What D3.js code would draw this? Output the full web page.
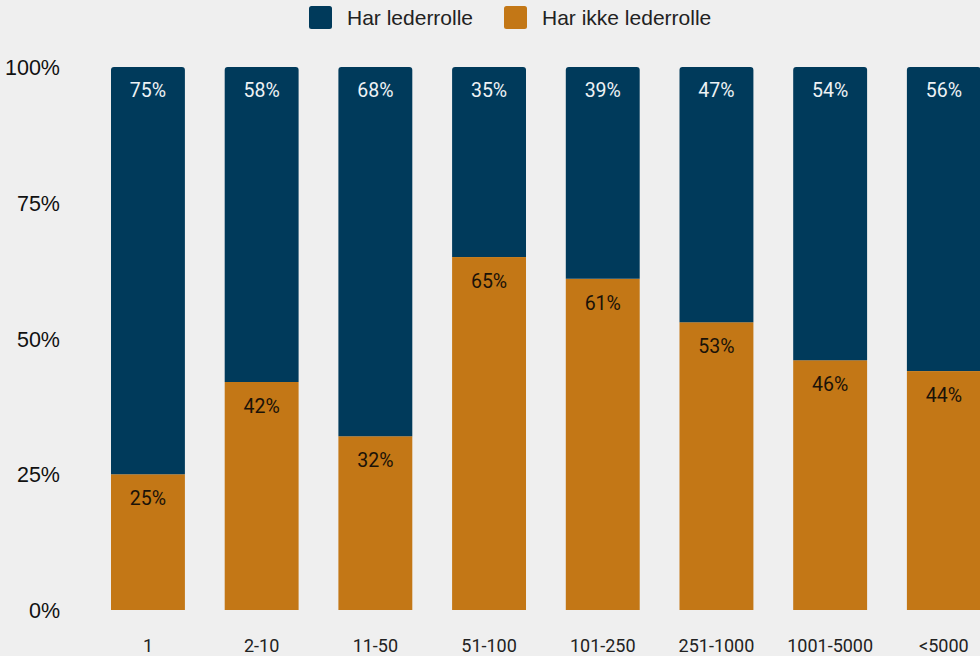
<!DOCTYPE html>
<html><head><meta charset="utf-8">
<script src="https://cdn.jsdelivr.net/npm/d3@7"></script>
<style>
html,body{margin:0;padding:0;background:#efefef;overflow:hidden}
svg{display:block}
</style></head>
<body><svg id="chart" width="980" height="656"></svg>
<script>
const categories = ["1","2-10","11-50","51-100","101-250","251-1000","1001-5000","<5000"];
const seriesNames = ["Har lederrolle","Har ikke lederrolle"];
const harLederrolle = [75,58,68,35,39,47,54,56];
const harIkkeLederrolle = [25,42,32,65,61,53,46,44];
const yTicks = [0,25,50,75,100];
const colors = ["#003a5b","#c37716"];

const svg = d3.select("#chart");
const W = 980, H = 656;
svg.append("rect").attr("width",W).attr("height",H).attr("fill","#efefef");

const x = d3.scaleBand().domain(categories).range([91.1,1000.7]).paddingInner(0.35).paddingOuter(0.175);
const y = d3.scaleLinear().domain([0,100]).range([610,67]);

// y axis labels
const yAxis = d3.axisLeft(y).tickValues(yTicks).tickFormat(d=>d+"%").tickSize(0).tickPadding(0);
const gy = svg.append("g").attr("transform","translate(60,0)").call(yAxis);
gy.select(".domain").remove();
gy.selectAll("text").attr("font-family","'Liberation Sans', Arial, sans-serif").attr("font-size",21.5).attr("fill","#111").attr("dy","0.35em");

// x axis labels
const xAxis = d3.axisBottom(x).tickSize(0).tickPadding(0);
const gx = svg.append("g").attr("transform","translate(0,639)").call(xAxis);
gx.select(".domain").remove();
gx.selectAll("text").attr("font-family","Roboto, sans-serif").attr("font-size",18).attr("fill","#222").attr("dy","0.71em");
// clip the 251-1000 label like the reference (tick-local coordinates)
const defs = svg.append("defs");
defs.append("clipPath").attr("id","clipx").append("rect")
  .attr("x",-100).attr("y",-10).attr("width",100+x.bandwidth()/2+6).attr("height",40);
gx.selectAll(".tick").filter(d=>d==="251-1000").select("text").attr("clip-path","url(#clipx)");

const data = categories.map((c,i)=>({cat:c, a:harLederrolle[i], b:harIkkeLederrolle[i]}));
const r = 3;
function topRounded(x0,y0,w,h){
  return `M${x0},${y0+h}V${y0+r}Q${x0},${y0} ${x0+r},${y0}H${x0+w-r}Q${x0+w},${y0} ${x0+w},${y0+r}V${y0+h}Z`;
}
const bars = svg.append("g");
bars.selectAll(".b").data(data).join("rect")
  .attr("x",d=>x(d.cat)).attr("width",x.bandwidth())
  .attr("y",d=>y(d.b)).attr("height",d=>y(0)-y(d.b)).attr("fill",colors[1]);
bars.selectAll(".a").data(data).join("path")
  .attr("d",d=>topRounded(x(d.cat), y(d.b+d.a), x.bandwidth(), y(d.b)-y(d.b+d.a)))
  .attr("fill",colors[0]);

// labels
svg.append("g").selectAll("text").data(data).join("text")
  .attr("x",d=>x(d.cat)+x.bandwidth()/2).attr("y",d=>y(d.a+d.b)+23)
  .attr("text-anchor","middle").attr("dy","0.35em")
  .attr("font-family","Roboto, sans-serif").attr("font-size",19.5).attr("fill","#eef2f5")
  .text(d=>d.a+"%");
svg.append("g").selectAll("text").data(data).join("text")
  .attr("x",d=>x(d.cat)+x.bandwidth()/2).attr("y",d=>y(d.b)+24)
  .attr("text-anchor","middle").attr("dy","0.35em")
  .attr("font-family","Roboto, sans-serif").attr("font-size",19.5).attr("fill","#1a1208")
  .text(d=>d.b+"%");

// legend
const leg = svg.append("g");
const legX = [309, 504];
seriesNames.forEach((n,i)=>{
  leg.append("rect").attr("x",legX[i]).attr("y",6).attr("width",23).attr("height",23).attr("rx",2.5).attr("fill",colors[i]);
  leg.append("text").attr("x",legX[i]+38).attr("y",17.5).attr("dy","0.35em")
    .attr("font-family","'Liberation Sans', Arial, sans-serif").attr("font-size",21).attr("fill","#222").text(n);
});
</script></body></html>
